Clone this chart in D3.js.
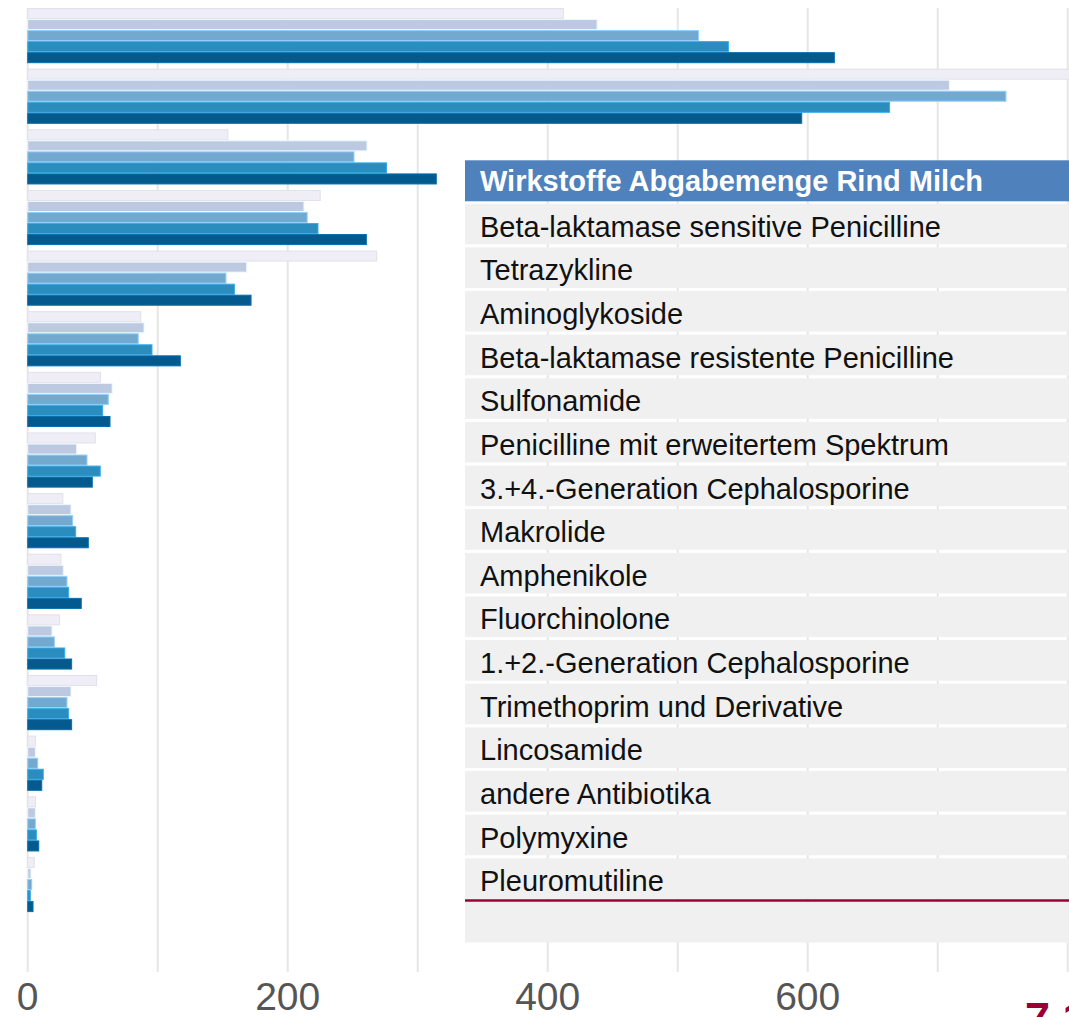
<!DOCTYPE html>
<html>
<head>
<meta charset="utf-8">
<script src="https://cdn.jsdelivr.net/npm/d3@7"></script>
<style>
body{margin:0;background:#fff;overflow:hidden;}
svg{display:block;font-family:"Liberation Sans",Arial,sans-serif;}
</style>
</head>
<body>
<div id="graphHolder"></div>
<script>
// categories (same order as the list in the box)
var categories = ["Beta-laktamase sensitive Penicilline","Tetrazykline","Aminoglykoside",
	"Beta-laktamase resistente Penicilline","Sulfonamide","Penicilline mit erweitertem Spektrum",
	"3.+4.-Generation Cephalosporine","Makrolide","Amphenikole","Fluorchinolone",
	"1.+2.-Generation Cephalosporine","Trimethoprim und Derivative","Lincosamide",
	"andere Antibiotika","Polymyxine","Pleuromutiline"];
var seriesKeys = ["s1","s2","s3","s4","s5"];
var s1 = [412,810,154,225,268.5,87,56,52,27,25.5,24.5,53,6,6,5,0];
var s2 = [438,709,261,212.5,168.5,89.5,65,37.7,33.3,27.4,18.7,33.3,5.9,5.9,2.5,0];
var s3 = [516,752.5,251,215,152.5,85,62,45.6,34.6,30.2,20.5,30.2,7.7,5.9,3.1,0];
var s4 = [539,663,276,223.3,159,95.6,57.7,55.8,36.9,31.5,28.5,31.5,12,6.7,2,0];
var s5 = [620.5,595.4,314.3,260.5,171.8,117.4,63.3,49.7,46.6,41.2,33.8,33.8,10.8,8.5,4.1,0];
var seriesColors = ["#efedf5","#bdc9e1","#74a9cf","#2b8cbe","#045a8d"];
var tickValues = [0,200,400,600];
var boxTitle = "Wirkstoffe Abgabemenge Rind Milch";
var cornerLabel = "7.1";

var W = 1069, H = 1017;
var svg = d3.select("#graphHolder").append("svg")
	.attr("width",W).attr("height",H);

var x = d3.scaleLinear().domain([0,800]).range([27.7,1067.7]);
var y = d3.scaleBand().domain(categories).range([8,978.2])
	.paddingInner(0.09).paddingOuter(0.045).align(0);
var ySub = d3.scaleBand().domain(seriesKeys).range([0,y.bandwidth()]).padding(0);

var allSeries = [s1,s2,s3,s4,s5];

// grid lines
svg.append("g").selectAll("line")
	.data(d3.range(0,801,100))
	.enter().append("line")
	.attr("x1",function(d){return x(d);})
	.attr("x2",function(d){return x(d);})
	.attr("y1",8).attr("y2",972)
	.style("stroke","#e6e6e6")
	.style("stroke-width",2);

// bars
var groups = svg.append("g").selectAll("g")
	.data(categories)
	.enter().append("g")
	.attr("transform",function(d){return "translate(0,"+y(d)+")";});

groups.selectAll("rect")
	.data(function(d,i){
		return seriesKeys.map(function(k,j){return {key:k,value:allSeries[j][i],idx:j};});
	})
	.enter().append("rect")
	.attr("x",x(0))
	.attr("y",function(d){return ySub(d.key)+0.5;})
	.attr("height",ySub.bandwidth()-1)
	.attr("width",function(d){return Math.max(0,x(d.value)-x(0));})
	.style("fill",function(d){return seriesColors[d.idx];})
	.style("stroke",function(d){return d.idx==0 ? "#e2e0ea" : d3.color(seriesColors[d.idx]).brighter(0.6);})
	.style("stroke-width",1);

// x axis labels
svg.append("g").selectAll("text")
	.data(tickValues)
	.enter().append("text")
	.attr("x",function(d){return x(d);})
	.attr("y",1010)
	.attr("text-anchor","middle")
	.style("font-size","39px")
	.style("fill","#555")
	.text(function(d){return d;});

// overlay box with the category list
var boxX = 465, headTop = 160.3, headH = 41, rowTop = 203.7, rowStep = 43.64, rowH = 40.6;
var box = svg.append("g");
box.append("rect")
	.attr("x",boxX).attr("y",headTop)
	.attr("width",W-boxX+10).attr("height",headH)
	.style("fill","#4f81bd");
box.append("text")
	.attr("x",480).attr("y",headTop+30.5)
	.style("font-size","29px")
	.style("font-weight","bold")
	.style("fill","#fff")
	.text(boxTitle);

var rows = box.selectAll("g.row")
	.data(categories.concat([""]))
	.enter().append("g")
	.attr("class","row")
	.attr("transform",function(d,i){return "translate("+boxX+","+(rowTop+i*rowStep)+")";});
rows.append("rect")
	.attr("width",W-boxX+10)
	.attr("height",rowH)
	.style("fill","#f0f0f0");
rows.append("text")
	.attr("x",15).attr("y",33)
	.style("font-size","29px")
	.style("fill","#111")
	.text(function(d){return d;});

// red line under the last entry
box.append("line")
	.attr("x1",boxX).attr("x2",W)
	.attr("y1",900.5).attr("y2",900.5)
	.style("stroke","#990033")
	.style("stroke-width",2.5);

svg.append("text")
	.attr("x",1025).attr("y",1034)
	.style("font-size","45px")
	.style("font-weight","bold")
	.style("fill","#990033")
	.text(cornerLabel);
</script>
</body>
</html>
